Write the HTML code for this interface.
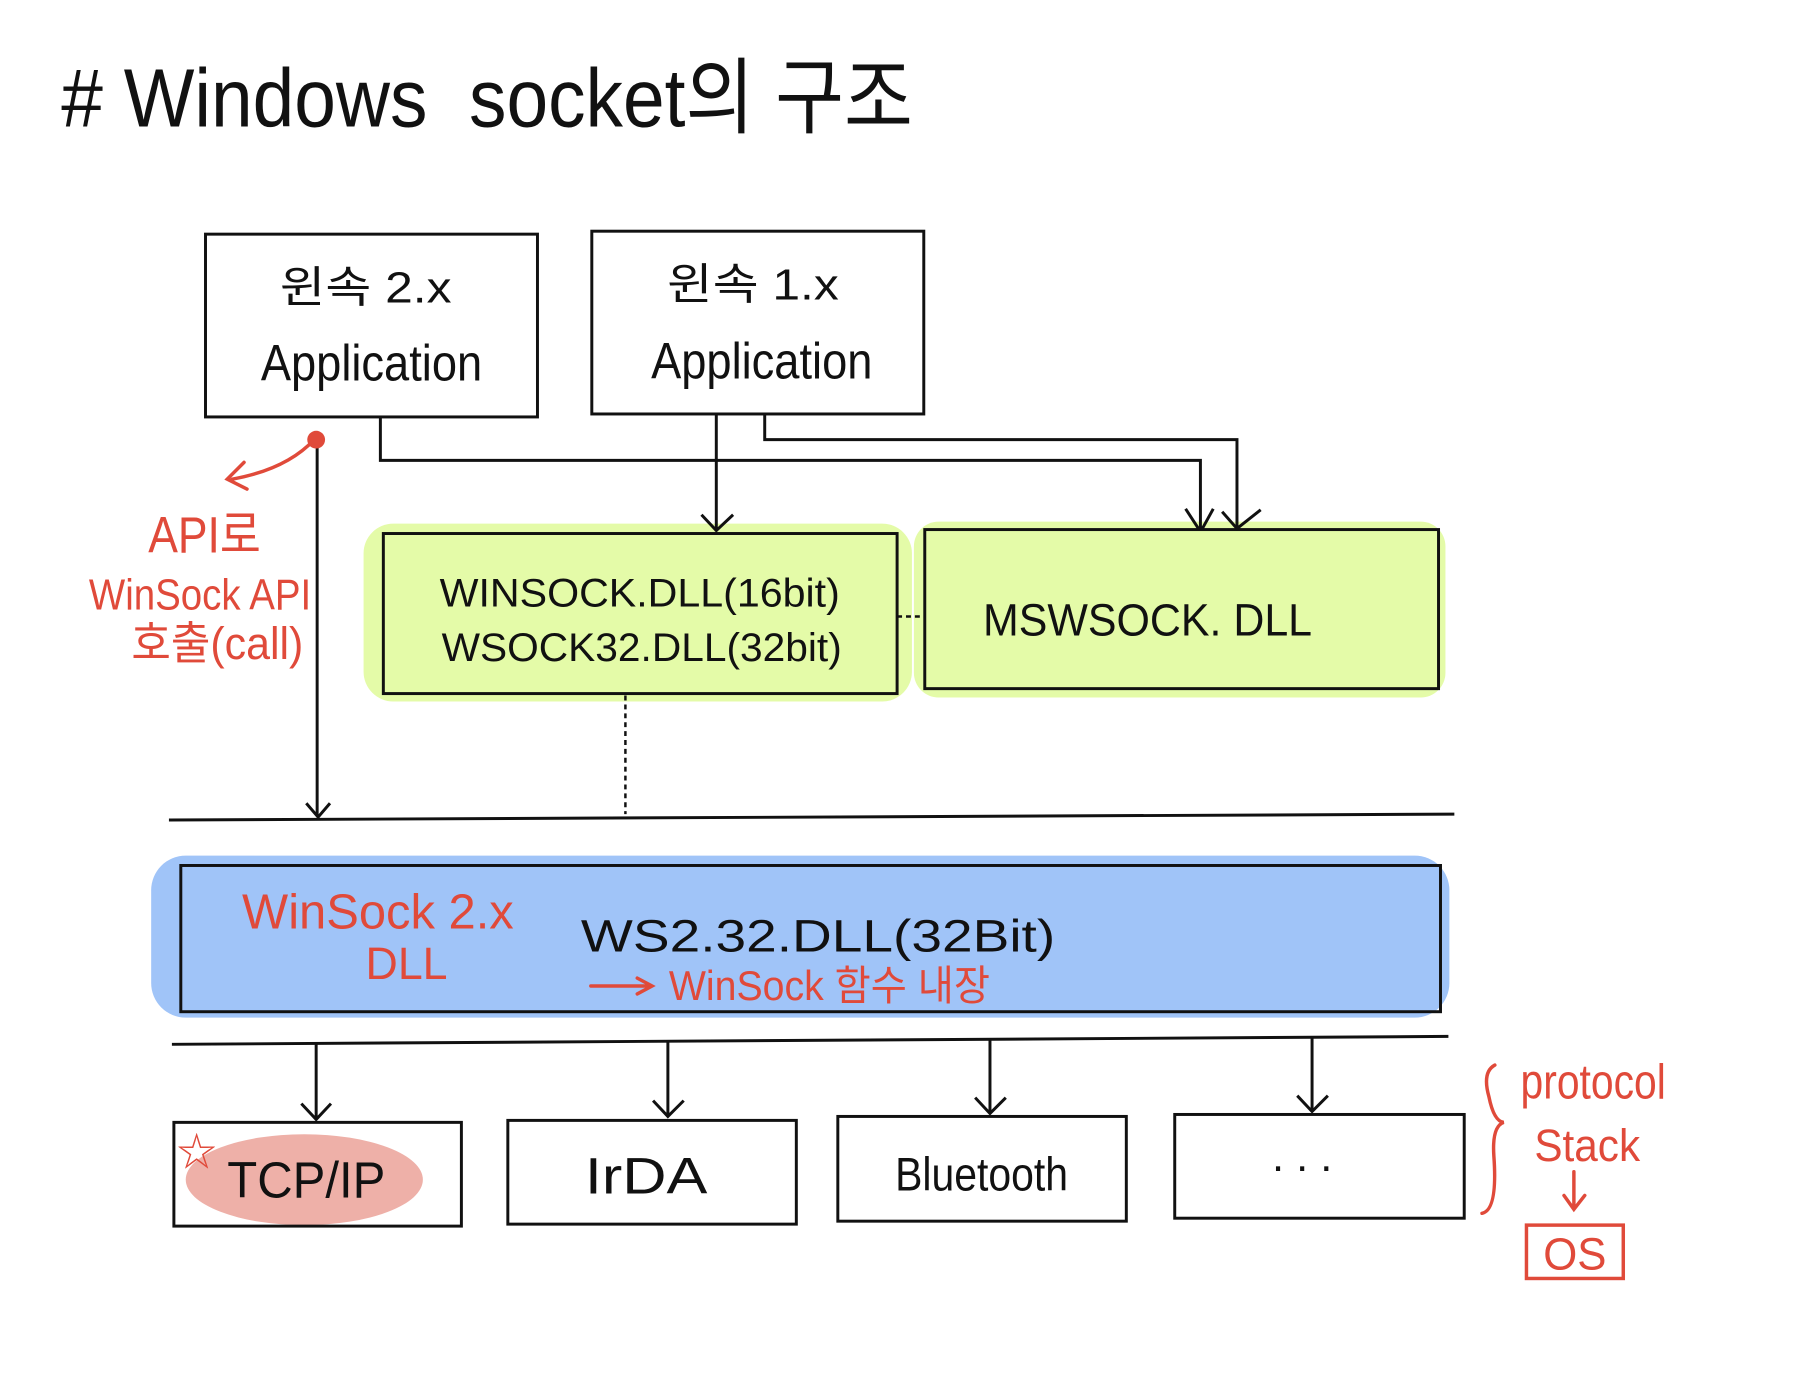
<!DOCTYPE html>
<html><head><meta charset="utf-8"><style>
html,body{margin:0;padding:0;background:#fff;}
svg{display:block}
text{font-family:"Liberation Sans","Noto Sans CJK KR",sans-serif;}
</style></head><body>
<svg width="1793" height="1397" viewBox="0 0 1793 1397" xmlns="http://www.w3.org/2000/svg">
<g transform="scale(0.988)">
<text x="62" y="128" font-size="84" fill="#111" textLength="862" lengthAdjust="spacingAndGlyphs">#&#160;Windows&#160;&#160;socket의&#160;구조</text>

<rect x="368" y="530" width="555" height="180" rx="30" fill="#e4fba8"/>
<rect x="925" y="528" width="538" height="178" rx="25" fill="#e4fba8"/>
<rect x="153" y="866" width="1314" height="164" rx="35" fill="#a0c4f8"/>
<ellipse cx="308" cy="1194" rx="120" ry="46" fill="#eeb0a8"/>

<g fill="none" stroke="#111" stroke-width="3">
<rect x="208" y="237" width="336" height="185"/>
<rect x="599" y="234" width="336" height="185"/>
<rect x="388" y="540" width="520" height="162"/>
<rect x="936" y="536" width="520" height="161"/>
<rect x="183" y="876" width="1275" height="148"/>
<line x1="171" y1="830" x2="1472" y2="824"/>
<line x1="174" y1="1057" x2="1466" y2="1049"/>
<rect x="176" y="1136" width="291" height="105"/>
<rect x="514" y="1134" width="292" height="105"/>
<rect x="848" y="1130" width="292" height="106"/>
<rect x="1189" y="1128" width="293" height="105"/>
<path d="M321 445 V826 M310 813 L322 827 L334 813"/>
<path d="M385 422 V466 H1215 V535 M1200 515 L1213 535 M1228 515 L1217 535"/>
<path d="M725 419 V538 M710 521 L725 537 L742 521"/>
<path d="M774 419 V445 H1252 V535 M1237 518 L1252 535 L1276 516"/>
<path d="M320 1057 V1133 M305 1117 L320 1133 L335 1117"/>
<path d="M676 1055 V1130 M661 1114 L676 1130 L692 1114"/>
<path d="M1002 1053 V1127 M987 1111 L1002 1127 L1018 1111"/>
<path d="M1328 1051 V1125 M1313 1109 L1328 1125 L1344 1109"/>
</g>
<g fill="none" stroke="#111" stroke-width="2.5" stroke-dasharray="5,4">
<line x1="633" y1="704" x2="633" y2="824"/>
<line x1="908" y1="624" x2="936" y2="624"/>
</g>

<g stroke="#e04a3a" stroke-width="3.5" fill="none" stroke-linecap="round">
<path d="M318 445 Q290 475 235 485 M247 468 L230 485 L250 495"/>
<path d="M598 998 H658 M645 990 L660 998 L645 1006"/>
<path d="M1513 1078 Q1500 1085 1507 1110 Q1512 1135 1522 1136 Q1510 1140 1512 1170 Q1516 1225 1500 1228"/>
<path d="M1593 1186 V1222 M1583 1210 L1593 1224 L1604 1210"/>
<rect x="1545" y="1240" width="98" height="54"/>
</g>
<circle cx="320" cy="445" r="9" fill="#e04a3a"/>
<text x="199" y="1180" font-size="40" fill="#e04a3a" text-anchor="middle">☆</text>

<g fill="#e04a3a">
<text x="150" y="559" font-size="52" textLength="114" lengthAdjust="spacingAndGlyphs">API로</text>
<text x="90" y="617" font-size="44" textLength="225" lengthAdjust="spacingAndGlyphs">WinSock API</text>
<text x="133" y="667" font-size="46" textLength="174" lengthAdjust="spacingAndGlyphs">호출(call)</text>
<text x="245" y="940" font-size="50" textLength="275" lengthAdjust="spacingAndGlyphs">WinSock 2.x</text>
<text x="370" y="991" font-size="46" textLength="83" lengthAdjust="spacingAndGlyphs">DLL</text>
<text x="677" y="1012" font-size="42" textLength="325" lengthAdjust="spacingAndGlyphs">WinSock 함수 내장</text>
<text x="1539" y="1112" font-size="50" textLength="147" lengthAdjust="spacingAndGlyphs">protocol</text>
<text x="1553" y="1175" font-size="46" textLength="107" lengthAdjust="spacingAndGlyphs">Stack</text>
<text x="1562" y="1285" font-size="46" textLength="64" lengthAdjust="spacingAndGlyphs">OS</text>
</g>

<g fill="#111">
<text x="283" y="306" font-size="44" textLength="174" lengthAdjust="spacingAndGlyphs">윈속 2.x</text>
<text x="264" y="385" font-size="52" textLength="224" lengthAdjust="spacingAndGlyphs">Application</text>
<text x="675" y="303" font-size="44" textLength="174" lengthAdjust="spacingAndGlyphs">윈속 1.x</text>
<text x="659" y="383" font-size="52" textLength="224" lengthAdjust="spacingAndGlyphs">Application</text>
<text x="445" y="614" font-size="40" textLength="405" lengthAdjust="spacingAndGlyphs">WINSOCK.DLL(16bit)</text>
<text x="447" y="669" font-size="40" textLength="405" lengthAdjust="spacingAndGlyphs">WSOCK32.DLL(32bit)</text>
<text x="995" y="643" font-size="46" textLength="333" lengthAdjust="spacingAndGlyphs">MSWSOCK. DLL</text>
<text x="588" y="963" font-size="46" textLength="480" lengthAdjust="spacingAndGlyphs">WS2.32.DLL(32Bit)</text>
<text x="230" y="1212" font-size="52" textLength="160" lengthAdjust="spacingAndGlyphs">TCP/IP</text>
<text x="592" y="1208" font-size="52" textLength="124" lengthAdjust="spacingAndGlyphs">IrDA</text>
<text x="906" y="1205" font-size="48" textLength="175" lengthAdjust="spacingAndGlyphs">Bluetooth</text>
<text x="1318" y="1185" font-size="44" text-anchor="middle">. . .</text>
</g>
</g>
</svg>
</body></html>
